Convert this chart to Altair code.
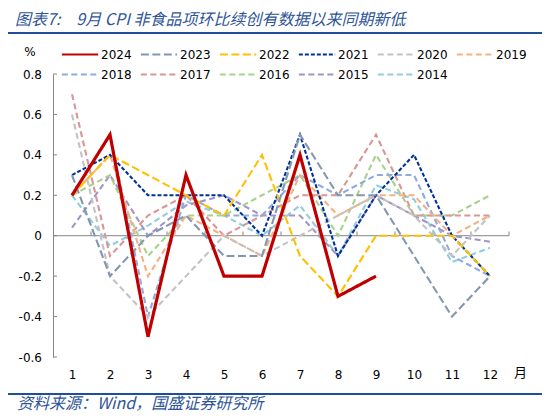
import altair as alt
import pandas as pd

# ---------------- data ----------------
months = list(range(1, 13))
years = ["2024", "2023", "2022", "2021", "2020", "2019",
         "2018", "2017", "2016", "2015", "2014"]

v2024 = [0.2, 0.5, -0.5, 0.3, -0.2, -0.2, 0.4, -0.3, -0.2]
v2023 = [0.3, -0.2, 0.0, 0.1, -0.1, -0.1, 0.5, 0.2, 0.2, -0.1, -0.4, -0.2]
v2022 = [0.2, 0.4, 0.3, 0.2, 0.1, 0.4, -0.1, -0.3, 0.0, 0.0, 0.0, -0.2]
v2021 = [0.3, 0.4, 0.2, 0.2, 0.2, 0.0, 0.5, -0.1, 0.2, 0.4, 0.0, -0.2]
v2020 = [0.6, -0.2, -0.4, -0.2, 0.0, -0.1, 0.0, 0.1, 0.2, 0.1, -0.1, 0.1]
v2019 = [0.2, 0.4, -0.2, 0.1, 0.0, -0.1, 0.3, 0.1, 0.2, 0.2, 0.0, 0.1]
v2018 = [0.2, 0.5, -0.4, 0.2, 0.1, 0.1, 0.3, 0.2, 0.3, 0.3, -0.1, -0.2]
v2017 = [0.7, -0.1, 0.1, 0.2, 0.0, 0.1, 0.2, 0.2, 0.5, 0.1, 0.1, 0.1]
v2016 = [0.2, 0.3, -0.1, 0.1, 0.1, 0.2, 0.3, 0.0, 0.4, 0.1, 0.1, 0.2]
v2015 = [0.04, 0.3, 0.0, 0.15, 0.2, 0.1, 0.1, -0.1, 0.2, 0.1, 0.0, -0.03]
v2014 = [0.2, -0.05, 0.05, 0.17, 0.1, 0.0, 0.15, -0.1, 0.25, 0.18, -0.13, -0.06]

y_ticks = [-0.6, -0.4, -0.2, 0.0, 0.2, 0.4, 0.6, 0.8]
x_tick_marks = [1.5, 2.5, 3.5, 4.5, 5.5, 6.5, 7.5, 8.5, 9.5, 10.5, 11.5, 12.5]

title_text = "图表7:\u20039月 CPI 非食品项环比续创有数据以来同期新低"
source_text = "资料来源：Wind，国盛证券研究所"
unit_text = "%"
month_unit = "月"

series = {"2024": v2024, "2023": v2023, "2022": v2022, "2021": v2021,
          "2020": v2020, "2019": v2019, "2018": v2018, "2017": v2017,
          "2016": v2016, "2015": v2015, "2014": v2014}

rows = []
for yr in reversed(years):  # oldest first so 2024 is drawn on top
    for m, v in zip(months, series[yr]):
        rows.append({"year": yr, "month": m, "value": v})
df = pd.DataFrame(rows)

# ---------------- styles ----------------
colors = ["#C00000", "#8497B0", "#FFC000", "#003399", "#C3C3C3", "#F4B183",
          "#8FAADC", "#D99694", "#A9D18E", "#A294C6", "#93CDDD"]
dashes = [[1, 0], [8, 3.5], [8, 3.5], [4, 2], [6, 3.5], [6, 3.5],
          [6, 3.5], [6, 3.5], [6, 3.5], [6, 3.5], [6, 3.5]]

FONT = "DejaVu Sans"
CJK = "Noto Sans CJK SC"
BLUE = "#1F4E9A"
AX = "#868686"

xs = alt.Scale(domain=[0.5, 12.5], nice=False, zero=False)
ys = alt.Scale(domain=[-0.6, 0.8], nice=False, zero=False)

x_axis = alt.Axis(values=months, title=month_unit, domain=False, ticks=False,
                  grid=False, labelPadding=12,
                  labelFont=FONT, labelFontSize=12, labelColor="#000000",
                  titleFont=CJK, titleFontSize=13, titleFontWeight="normal",
                  titleColor="#000000", titleX=467, titleY=15,
                  titleAlign="center", titleBaseline="middle")
y_axis = alt.Axis(values=y_ticks, title=None, grid=False, ticks=False,
                  domainColor=AX, domainWidth=1,
                  labelPadding=11.5, labelFont=FONT, labelFontSize=12,
                  labelColor="#000000",
                  labelExpr="abs(datum.value) < 1e-9 ? '0' : (datum.value < 0 ? '-' + format(-datum.value, '.1f') : format(datum.value, '.1f'))")

legend = alt.Legend(
    title=None, orient="none", legendX=20, legendY=-26.5,
    direction="horizontal", columns=6, columnPadding=4, rowPadding=7,
    symbolType="M-3.3,0H3.3", symbolSize=121, symbolStrokeWidth=2.2,
    labelOffset=14, labelFont=FONT, labelFontSize=12, labelColor="#000000",
)

zero_rule = alt.Chart(pd.DataFrame({"y": [0.0]})).mark_rule(color=AX, strokeWidth=1).encode(
    y=alt.Y("y:Q", scale=ys, axis=y_axis)
)

xtick_rules = alt.Chart(pd.DataFrame({"x": x_tick_marks, "y0": [0.0] * 12, "y1": [0.021] * 12})).mark_rule(
    color=AX, strokeWidth=1).encode(
    x=alt.X("x:Q", scale=xs, axis=x_axis),
    y=alt.Y("y0:Q", scale=ys, axis=y_axis),
    y2="y1:Q",
)

ytick_rules = alt.Chart(pd.DataFrame({"y": y_ticks})).mark_rule(color=AX, strokeWidth=1).encode(
    y=alt.Y("y:Q", scale=ys, axis=y_axis),
    x=alt.value(0),
    x2=alt.value(4),
)

lines = alt.Chart(df).mark_line(strokeCap="butt", strokeJoin="miter").encode(
    x=alt.X("month:Q", scale=xs, axis=x_axis),
    y=alt.Y("value:Q", scale=ys, axis=y_axis),
    color=alt.Color("year:N", scale=alt.Scale(domain=years, range=colors), legend=legend),
    strokeDash=alt.StrokeDash("year:N", scale=alt.Scale(domain=years, range=dashes), legend=legend),
    strokeWidth=alt.condition("datum.year === '2024'", alt.value(3.2), alt.value(2.1)),
)

def text_layer(txt, x, y, size, font, color, italic=False, align="left"):
    return alt.Chart(pd.DataFrame({"t": [txt]})).mark_text(
        align=align, baseline="middle", font=font, fontSize=size, color=color,
        fontStyle="italic" if italic else "normal",
    ).encode(text="t:N", x=alt.value(x), y=alt.value(y))

title_layer = text_layer(title_text, -38, -54, 16, CJK, "#2F5597", italic=True)
source_layer = text_layer(source_text, -36, 329.5, 16, CJK, "#2F5597", italic=True)
unit_layer = text_layer(unit_text, -23, -22, 12, FONT, "#000000", align="center")

title_line = alt.Chart(pd.DataFrame({"k": [0]})).mark_rule(color=BLUE, strokeWidth=2).encode(
    x=alt.value(-50), x2=alt.value(494), y=alt.value(-41))
source_line = alt.Chart(pd.DataFrame({"k": [0]})).mark_rule(color=BLUE, strokeWidth=2).encode(
    x=alt.value(-53), x2=alt.value(497), y=alt.value(320))

chart = alt.layer(
    zero_rule, xtick_rules, ytick_rules, lines,
    title_line, source_line, title_layer, source_layer, unit_layer,
).properties(
    width=456, height=283, autosize="none",
    padding={"left": 45, "top": 66, "right": 33, "bottom": 55},
).configure_view(stroke=None)

chart.save("out.html", embed_options={"renderer": "svg", "actions": False})
